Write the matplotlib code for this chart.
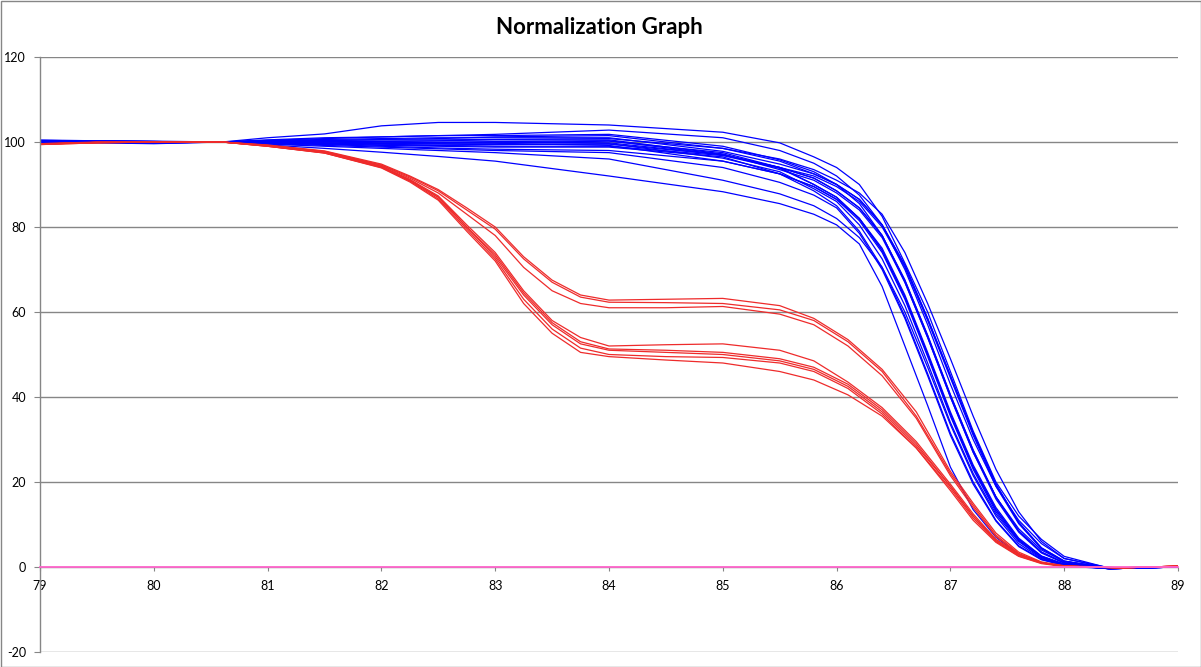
#imports
import matplotlib
matplotlib.use('Agg')
import matplotlib.pyplot as plt
from matplotlib.patches import Rectangle

#Data
temps_blue = [79.0, 79.5, 80.0, 80.6, 81.0, 81.5, 82.0, 82.5, 83.0, 84.0, 85.0, 85.5,
              85.8, 86.0, 86.2, 86.4, 86.6, 86.8, 87.0, 87.2, 87.4, 87.6, 87.8, 88.0, 88.4, 89.0]

blue_top = [100.3, 100.2, 100.1, 100, 101, 101.9, 103.8, 104.6, 104.6, 104, 102.3, 99.8,
            96.5, 94, 90, 82.5, 71.5, 60, 46, 32, 20, 12, 6.5, 2.5, -0.3, 0]
blue_02 = [100.2, 100.1, 100, 100, 100.4, 100.8, 101.2, 101.5, 101.8, 102.8, 101, 98,
           95, 92, 87.5, 80.5, 70, 57, 43, 30, 19, 11, 5.5, 2, -0.3, 0]
blue_03 = [100.4, 100.2, 100.1, 100, 100.5, 101, 101.2, 101.5, 101.5, 101.8, 99, 95.8,
           93, 90, 85.5, 78, 67, 54, 40, 27, 16.5, 9, 4, 1.3, -0.3, 0]
blue_04 = [100.3, 100.2, 100, 100, 100.2, 100.4, 100.5, 100.5, 100.6, 100.8, 98.5, 95.5,
           92.5, 90, 86.5, 80.5, 71, 58.5, 45, 31.5, 19.5, 10.5, 4.5, 1.4, -0.3, 0]
blue_05 = [100, 100, 100, 100, 100, 100.2, 100.1, 100, 100, 99.8, 97, 94,
           90, 87, 82, 74.5, 63.5, 50, 36, 23.5, 13.5, 6.5, 2.5, 0.6, -0.4, 0]
blue_06 = [99.6, 99.8, 99.6, 100, 99.8, 99.6, 99.2, 99, 98.8, 98.8, 96.5, 92.5,
           88.5, 85, 79, 70.5, 59, 45.5, 31.5, 20, 11, 5, 1.8, 0.4, -0.4, 0]
blue_07 = [100.4, 100.3, 100.2, 100, 99.9, 99.8, 99.6, 99.5, 99.4, 99.5, 97, 94,
           91.5, 88.5, 84.5, 78, 67.5, 54.5, 40.5, 27.5, 16.5, 8.5, 3.5, 1, -0.3, 0]
blue_08 = [99.7, 99.9, 99.8, 100, 100.1, 100.3, 100.6, 100.8, 101.2, 101.5, 98.5, 96,
           93.5, 91, 88, 83, 74, 62, 49, 35.5, 23, 13, 6, 2, -0.2, 0]
blue_09 = [100.1, 100, 99.9, 100, 99.7, 99.4, 99, 98.6, 98.3, 98, 95.5, 92.5,
           89.5, 86.5, 81.5, 74, 63, 49.5, 35.5, 23, 13, 6.2, 2.3, 0.5, -0.4, 0]
blue_10 = [100.2, 100.1, 100, 100, 100, 100, 99.8, 99.7, 99.8, 100.2, 97.5, 94,
           91.5, 88.5, 84.5, 78, 67.5, 54.5, 40.5, 27.5, 16.5, 8.5, 3.5, 1, -0.3, 0]
blue_11 = [99.8, 99.9, 99.7, 100, 99.6, 99.2, 98.8, 98.4, 98, 97.5, 94, 90.5,
           87.5, 84.5, 78.5, 70, 58.5, 45, 31, 19.5, 10.8, 4.8, 1.7, 0.4, -0.4, 0]
blue_12 = [100, 100.1, 100.1, 100, 100.3, 100.6, 100.8, 101, 101, 101, 97.8, 94.8,
           92.5, 90, 86.5, 80.5, 71, 58.5, 45, 31.5, 19.5, 10.5, 4.5, 1.4, -0.3, 0]
blue_13 = [99.9, 100, 99.8, 100, 99.8, 99.7, 99.5, 99.2, 99, 99, 96.8, 93.8,
           90, 87, 82, 74.5, 63.5, 50, 36, 23.5, 13.5, 6.5, 2.5, 0.6, -0.4, 0]
blue_14 = [100.3, 100.2, 100.1, 100, 100.1, 100.1, 100.2, 100.3, 100.5, 100.5, 97.2, 93.5,
           91, 88, 84, 77.5, 67, 54, 40, 27, 16, 8.2, 3.3, 0.9, -0.3, 0]
blue_15 = [99.8, 99.9, 99.9, 100, 99.7, 99.5, 99.3, 99.2, 99.4, 99.6, 96.2, 93,
           89, 86, 80.5, 72.5, 61.5, 48, 34, 22, 12.5, 6, 2.2, 0.5, -0.4, 0]
blue_16 = [100.1, 100.1, 100, 100, 100.2, 100.2, 100, 99.8, 99.7, 99.2, 95.5, 92.5,
           89.5, 86.5, 82, 75, 64, 50.5, 36.5, 24, 14, 6.8, 2.6, 0.7, -0.4, 0]
blue_17 = [100.4, 100.3, 100.1, 100, 99.9, 99.7, 99.6, 99.8, 100.1, 100.3, 97, 94,
           92, 89.5, 86, 80, 70.5, 58, 44.5, 31, 19, 10.2, 4.3, 1.3, -0.3, 0]
blue_low1 = [100, 100, 99.8, 100, 99.3, 98.5, 97.6, 96.6, 95.5, 92, 88.3, 85.5,
             83, 80.5, 76, 66, 52, 38, 23.5, 13.5, 7, 3, 1, 0.2, -0.4, 0]
blue_low2 = [100.1, 100, 99.9, 100, 99.5, 99, 98.5, 98, 97.5, 96, 91, 87.8,
             85, 82, 77.5, 70.5, 60, 47, 33.5, 21.5, 12, 5.5, 2, 0.5, -0.4, 0]

temps_red = [79.0, 79.5, 80.0, 80.6, 81.0, 81.5, 82.0, 82.25, 82.5, 82.75, 83.0, 83.25,
             83.5, 83.75, 84.0, 84.5, 85.0, 85.5, 85.8, 86.1, 86.4, 86.7, 87.0, 87.2,
             87.4, 87.6, 87.8, 88.0, 88.5, 89.0]

red_up1 = [99.6, 99.9, 100, 100, 99.3, 97.9, 94.8, 92, 88.8, 84.5, 80, 73,
           67.5, 64, 62.8, 63, 63.2, 61.5, 58.5, 53.5, 46.5, 36.5, 22.5, 15,
           8, 3.5, 1.2, 0.3, -0.2, 0.2]
red_up2 = [99.5, 99.9, 100, 100, 99.2, 97.8, 94.6, 91.8, 88.5, 84, 79.5, 72.5,
           67, 63.5, 62.3, 62.2, 62, 60.5, 58, 53, 46, 35.5, 22, 14.5,
           7.5, 3.2, 1, 0.2, -0.2, 0.2]
red_up3 = [99.4, 99.8, 100, 100, 99.2, 97.7, 94.5, 91.5, 88, 83, 78, 70.5,
           65, 62, 61, 61, 61.3, 59.5, 57, 52, 45, 35, 21.5, 14,
           7.2, 3, 1, 0.2, -0.2, 0.2]
red_lo1 = [99.5, 99.9, 100, 100, 99.1, 97.6, 94.3, 91.2, 87.3, 80.5, 74, 65,
           58, 54, 52, 52.3, 52.5, 51, 48.5, 43.5, 37.5, 29.5, 19.5, 12.5,
           6.5, 3, 1, 0.2, -0.2, 0.2]
red_lo2 = [99.6, 100, 100, 100, 99.1, 97.5, 94.2, 91, 87, 80, 73.5, 64.5,
           57.5, 53, 51.3, 51, 50.5, 49, 47, 43, 37, 29, 19, 12,
           6.5, 3, 1, 0.2, -0.2, 0.2]
red_lo3 = [99.5, 99.9, 100, 100, 99, 97.5, 94.1, 91, 87, 80, 73, 64,
           57, 52.5, 51, 50.5, 50, 48.5, 46.5, 42.5, 36.5, 28.5, 19, 12,
           6.2, 2.8, 1, 0.2, -0.2, 0.2]
red_lo4 = [99.4, 99.8, 100, 100, 99, 97.4, 94, 90.8, 86.6, 79.5, 72.5, 63,
           56, 51.5, 50, 49.5, 49.3, 48, 46, 42, 36, 28, 18.5, 11.5,
           6, 2.6, 0.9, 0.2, -0.2, 0.2]
red_lo5 = [99.5, 99.9, 100, 100, 99, 97.4, 93.9, 90.6, 86.3, 79, 72, 62,
           55, 50.5, 49.5, 48.7, 48, 46, 44, 40.5, 35.5, 28, 18, 11,
           5.8, 2.5, 0.8, 0.1, -0.2, 0.2]

blue_curves = [blue_top, blue_02, blue_03, blue_04, blue_05, blue_06, blue_07, blue_08,
               blue_09, blue_10, blue_11, blue_12, blue_13, blue_14, blue_15, blue_16,
               blue_17, blue_low1, blue_low2]
red_curves = [red_up1, red_up2, red_up3, red_lo1, red_lo2, red_lo3, red_lo4, red_lo5]

x_ticks = list(range(79, 90))
y_ticks = list(range(-20, 121, 20))

#Setup
plt.rcParams['font.family'] = ['Lato', 'DejaVu Sans']
gray = '#868686'

fig = plt.figure(figsize=(12.01, 6.67), dpi=100)
ax = fig.add_axes([40 / 1201, 15 / 667, 1138 / 1201, 595 / 667])

#plot the curves (blue first, red on top)
for ys in blue_curves:
    ax.plot(temps_blue, ys, color='#0000FF', linewidth=0.9)
for ys in red_curves:
    ax.plot(temps_red, ys, color='#EE2B2B', linewidth=0.9)

ax.set_xlim(79, 89)
ax.set_ylim(-20, 120)
ax.set_xticks(x_ticks)
ax.set_yticks(y_ticks)
ax.set_xticklabels([str(t) for t in x_ticks])
ax.set_yticklabels([str(t) for t in y_ticks])

#gridlines and axes look like excel
ax.yaxis.grid(True, color=gray, linewidth=1.0)
ax.set_axisbelow(True)
ax.spines['top'].set_visible(False)
ax.spines['right'].set_visible(False)
ax.spines['left'].set_color(gray)
ax.spines['left'].set_linewidth(1.0)
ax.spines['bottom'].set_position(('data', 0))
ax.spines['bottom'].set_color('#FF66CC')
ax.spines['bottom'].set_linewidth(1.3)
ax.spines['bottom'].set_zorder(3)
ax.tick_params(axis='x', direction='out', length=3, color=gray, labelsize=9, pad=6)
ax.tick_params(axis='y', direction='out', length=4, color=gray, labelsize=9, pad=6)

fig.text(599 / 1201, 1 - 27 / 667, 'Normalization Graph', ha='center', va='center',
         fontsize=16, fontweight='bold')

#outer border of the chart area
fig.add_artist(Rectangle((0.5 / 1201, 0.5 / 667), 1 - 1 / 1201, 1 - 1 / 667,
                         transform=fig.transFigure, fill=False, edgecolor=gray, linewidth=1))

fig.savefig('out.png', dpi=100)
